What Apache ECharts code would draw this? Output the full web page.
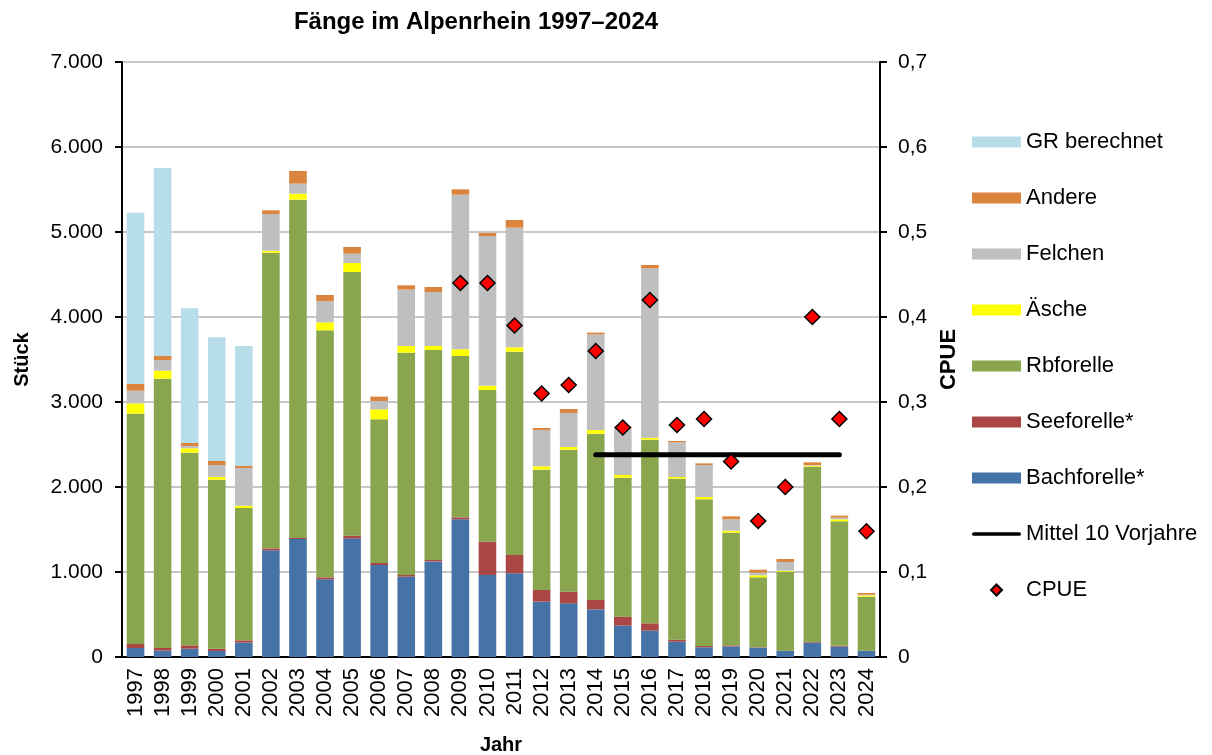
<!DOCTYPE html>
<html>
<head>
<meta charset="utf-8">
<title>Fänge im Alpenrhein 1997–2024</title>
<script src="https://cdn.jsdelivr.net/npm/echarts@6/dist/echarts.min.js"></script>
<style>
  html, body { margin: 0; padding: 0; background: #fff; }
  #chart { width: 1212px; height: 755px; }
</style>
</head>
<body>
<div id="chart"></div>
<script>
const years = ["1997", "1998", "1999", "2000", "2001", "2002", "2003", "2004", "2005", "2006",
  "2007", "2008", "2009", "2010", "2011", "2012", "2013", "2014", "2015", "2016",
  "2017", "2018", "2019", "2020", "2021", "2022", "2023", "2024"];

// Stück pro Art (Stapel von unten nach oben)
const bachforelle = [106, 75, 98, 71, 169, 1255, 1388, 914, 1396, 1082, 945, 1125, 1620, 965, 984, 651, 631, 561, 369, 310, 180, 114, 125, 110, 71, 169, 122, 71];
const seeforelle = [47, 31, 39, 27, 27, 23, 12, 23, 31, 24, 20, 16, 23, 392, 216, 137, 138, 110, 106, 86, 24, 15, 12, 4, 4, 7, 11, 4];
const rbforelle = [2710, 3169, 2267, 1988, 1557, 3479, 3980, 2906, 3102, 1690, 2615, 2471, 1898, 1784, 2392, 1416, 1670, 1956, 1635, 2161, 1894, 1726, 1326, 823, 929, 2063, 1463, 635];
const aesche = [121, 94, 51, 32, 27, 23, 71, 94, 106, 118, 79, 47, 79, 51, 51, 39, 32, 44, 31, 23, 20, 27, 23, 24, 12, 12, 24, 15];
const felchen = [149, 125, 27, 141, 444, 432, 118, 251, 110, 98, 663, 635, 1819, 1761, 1408, 428, 400, 1125, 557, 1993, 407, 377, 134, 31, 102, 8, 19, 8];
const andere = [79, 47, 36, 47, 23, 43, 149, 71, 79, 51, 51, 59, 63, 35, 90, 23, 47, 20, 16, 39, 16, 19, 35, 35, 35, 31, 24, 20];
const grBerechnet = [2015, 2212, 1584, 1455, 1412, null, null, null, null, null,
  null, null, null, null, null, null, null, null, null, null,
  null, null, null, null, null, null, null, null];

// CPUE (rechte Achse)
const cpue = [null, null, null, null, null, null, null, null, null, null,
  null, null, 0.44, 0.44, 0.39, 0.31, 0.32, 0.36, 0.27, 0.42,
  0.273, 0.28, 0.23, 0.16, 0.20, 0.40, 0.28, 0.148];
const mittel10 = [null, null, null, null, null, null, null, null, null, null,
  null, null, null, null, null, null, null, 0.238, 0.238, 0.238,
  0.238, 0.238, 0.238, 0.238, 0.238, 0.238, 0.238, null];

const font = "'Liberation Sans', Arial, sans-serif";
const chart = echarts.init(document.getElementById("chart"), null, { renderer: "canvas" });

function barSeries(name, data, color) {
  return {
    name: name,
    type: "bar",
    stack: "fang",
    barWidth: "65%",
    data: data,
    itemStyle: { color: color }
  };
}

const option = {
  animation: false,
  backgroundColor: "#fff",
  textStyle: { fontFamily: font, color: "#000" },
  title: {
    text: "Fänge im Alpenrhein 1997–2024",
    left: 476,
    top: 10,
    padding: 0,
    textAlign: "center",
    textStyle: { fontFamily: font, fontSize: 24, fontWeight: "bold", color: "#000" }
  },
  grid: { left: 122, right: 332, top: 62, bottom: 98, containLabel: false, outerBoundsMode: "none" },
  legend: {
    orient: "vertical",
    left: 967,
    top: 126,
    itemWidth: 49,
    itemHeight: 11,
    itemGap: 34,
    textStyle: { fontFamily: font, fontSize: 22, color: "#000" },
    data: [
      { name: "GR berechnet", icon: "rect" },
      { name: "Andere", icon: "rect" },
      { name: "Felchen", icon: "rect" },
      { name: "Äsche", icon: "rect" },
      { name: "Rbforelle", icon: "rect" },
      { name: "Seeforelle*", icon: "rect" },
      { name: "Bachforelle*", icon: "rect" },
      { name: "Mittel 10 Vorjahre", icon: "path://M2,0L51,0A2,2 0 0 1 51,4L2,4A2,2 0 0 1 2,0Z" },
      { name: "CPUE", icon: "path://M5,0L10,5L5,10L0,5Z" }
    ]
  },
  xAxis: {
    type: "category",
    data: years,
    name: "Jahr",
    nameLocation: "middle",
    nameGap: 78,
    nameTextStyle: { fontFamily: font, fontSize: 20, fontWeight: "bold", color: "#000" },
    axisLine: { lineStyle: { color: "#000", width: 2 } },
    axisTick: { show: false },
    axisLabel: { rotate: 90, margin: 11, fontFamily: font, fontSize: 22, color: "#000", interval: 0 }
  },
  yAxis: [
    {
      type: "value",
      min: 0,
      max: 7000,
      interval: 1000,
      name: "Stück",
      nameLocation: "middle",
      nameRotate: 90,
      nameGap: 90,
      nameTextStyle: { fontFamily: font, fontSize: 20, fontWeight: "bold", color: "#000" },
      axisLine: { show: true, lineStyle: { color: "#000", width: 2 } },
      axisTick: { show: true, inside: false, length: 7, lineStyle: { color: "#000", width: 2 } },
      axisLabel: {
        margin: 19,
        fontFamily: font,
        fontSize: 21,
        color: "#000",
        formatter: v => v === 0 ? "0" : String(v).replace(/\B(?=(\d{3})+(?!\d))/g, ".")
      },
      splitLine: { show: true, lineStyle: { color: "#B4B4B4", width: 1.5 } }
    },
    {
      type: "value",
      position: "right",
      min: 0,
      max: 0.7,
      interval: 0.1,
      name: "CPUE",
      nameLocation: "middle",
      nameRotate: 90,
      nameGap: 57,
      nameTextStyle: { fontFamily: font, fontSize: 22, fontWeight: "bold", color: "#000" },
      axisLine: { show: true, lineStyle: { color: "#000", width: 2 } },
      axisTick: { show: true, inside: false, length: 7, lineStyle: { color: "#000", width: 2 } },
      axisLabel: {
        margin: 18,
        fontFamily: font,
        fontSize: 21,
        color: "#000",
        formatter: v => v === 0 ? "0" : v.toFixed(1).replace(".", ",")
      },
      splitLine: { show: false }
    }
  ],
  series: [
    barSeries("Bachforelle*", bachforelle, "#4572A7"),
    barSeries("Seeforelle*", seeforelle, "#AA4643"),
    barSeries("Rbforelle", rbforelle, "#89A54E"),
    barSeries("Äsche", aesche, "#FFFF00"),
    barSeries("Felchen", felchen, "#BFBFBF"),
    barSeries("Andere", andere, "#DB843D"),
    barSeries("GR berechnet", grBerechnet, "#B7DDE8"),
    {
      name: "Mittel 10 Vorjahre",
      type: "line",
      yAxisIndex: 1,
      data: mittel10,
      symbol: "none",
      connectNulls: false,
      z: 5,
      lineStyle: { color: "#000", width: 5, cap: "round" },
      itemStyle: { color: "#000" }
    },
    {
      name: "CPUE",
      type: "scatter",
      yAxisIndex: 1,
      data: cpue,
      symbol: "diamond",
      symbolSize: 15,
      z: 6,
      itemStyle: { color: "#FF0000", borderColor: "#000", borderWidth: 1.5, opacity: 1 }
    }
  ]
};

chart.setOption(option);
</script>
</body>
</html>
